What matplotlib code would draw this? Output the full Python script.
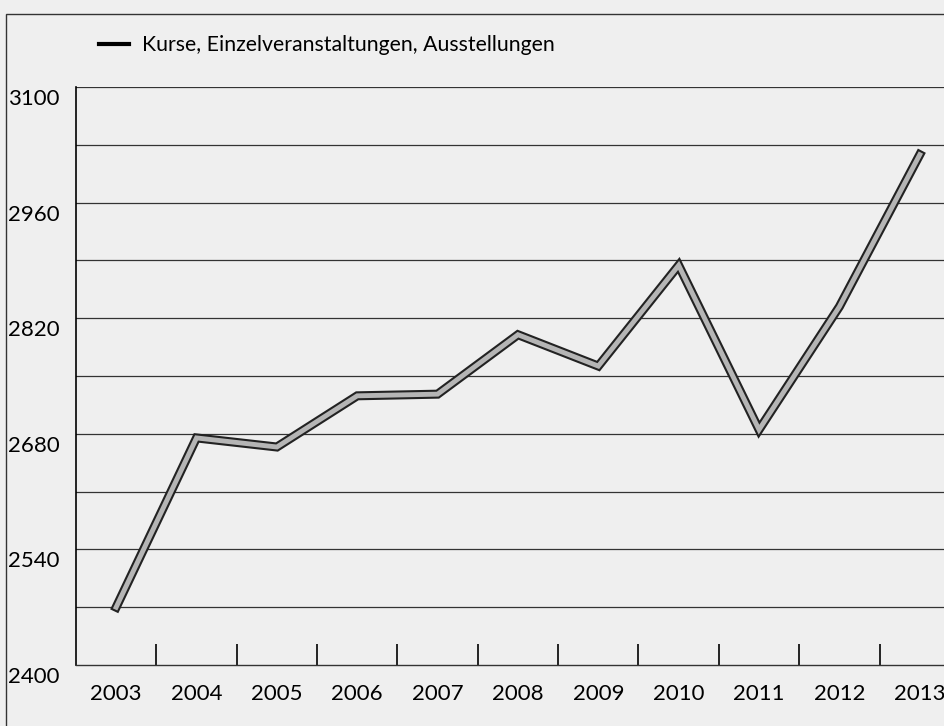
#Kurse, Einzelveranstaltungen, Ausstellungen 2003-2013
import numpy as np
import matplotlib
matplotlib.use('Agg')
import matplotlib.pyplot as plt
import matplotlib.transforms as mtransforms
from matplotlib.lines import Line2D
from matplotlib.patches import Rectangle

plt.rcParams['font.family'] = ['Lato', 'DejaVu Sans']

#data
years = ['2003', '2004', '2005', '2006', '2007', '2008', '2009', '2010', '2011', '2012', '2013']
values = [2470, 2675, 2664, 2726, 2728, 2800, 2762, 2884, 2685, 2834, 3018]
series_name = 'Kurse, Einzelveranstaltungen, Ausstellungen'
ytick_labels = [2400, 2540, 2680, 2820, 2960, 3100]

bg = '#efefef'
fig = plt.figure(figsize=(9.45, 7.26), dpi=100, facecolor=bg)
ax = fig.add_axes([0.0804, 0.0840, 0.9354, 0.7962], facecolor=bg)

x = np.arange(len(years))

#grid every 70
for v in np.arange(2470, 3101, 70):
    ax.axhline(v, color='#333333', lw=0.9, zorder=1)

#double line: dark edge + grey core
ax.plot(x, values, color='#222222', lw=6.5, solid_joinstyle='miter', zorder=3)
ax.plot(x, values, color='#b5b5b5', lw=3.5, solid_joinstyle='miter', zorder=4)

ax.set_xlim(-0.5, len(years) - 0.5)
ax.set_ylim(2400, 3100)

#ticks
ax.set_xticks(x[:-1] + 0.5)
ax.set_xticklabels([])
ax.set_xticks(x, minor=True)
ax.set_xticklabels(years, minor=True, fontsize=16)
ax.tick_params(axis='x', which='major', direction='in', length=15, width=1.2, color='black')
ax.tick_params(axis='x', which='minor', length=0, pad=14)

ax.set_yticks(ytick_labels)
ax.set_yticklabels([str(v) for v in ytick_labels], fontsize=16)
ax.tick_params(axis='y', length=0, pad=0)
offset = mtransforms.ScaledTranslation(-68 / 100, -10 / 100, fig.dpi_scale_trans)
for lab in ax.get_yticklabels():
    lab.set_transform(lab.get_transform() + offset)
    lab.set_horizontalalignment('left')

for s in ['top', 'right']:
    ax.spines[s].set_visible(False)
ax.spines['left'].set_color('black')
ax.spines['left'].set_linewidth(1.2)
ax.spines['bottom'].set_color('#333333')
ax.spines['bottom'].set_linewidth(1.0)

#legend
handle = Line2D([], [], color='black', lw=3)
fig.legend(handles=[handle], labels=[series_name], loc='center left',
           bbox_to_anchor=(80 / 945, 1 - 45 / 726), frameon=False,
           fontsize=15.3, handlelength=1.4, handletextpad=0.6)

#outer frame
fig.patches.append(Rectangle((6 / 945, -0.1), 1.2, (726 - 14) / 726 + 0.1,
                             transform=fig.transFigure, fill=False,
                             edgecolor='#333333', lw=1.0))

plt.savefig('out.png', dpi=100, facecolor=bg)
